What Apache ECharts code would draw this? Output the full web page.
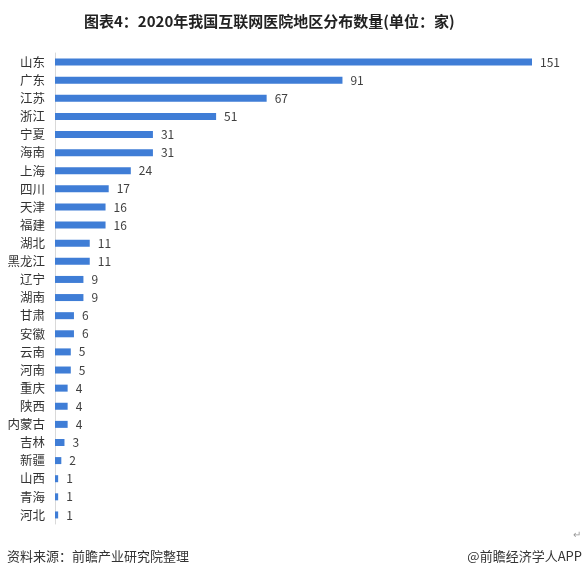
<!DOCTYPE html>
<html><head><meta charset="utf-8">
<script src="https://cdn.jsdelivr.net/npm/echarts@6/dist/echarts.min.js"></script>
<style>html,body{margin:0;padding:0;background:#fff}#c{width:584px;height:580px}</style>
</head><body><div id="c"></div>
<script>
const categories = ['山东','广东','江苏','浙江','宁夏','海南','上海','四川','天津','福建','湖北','黑龙江','辽宁','湖南','甘肃','安徽','云南','河南','重庆','陕西','内蒙古','吉林','新疆','山西','青海','河北'];
const values = [151,91,67,51,31,31,24,17,16,16,11,11,9,9,6,6,5,5,4,4,4,3,2,1,1,1];
const titleText = '图表4：2020年我国互联网医院地区分布数量(单位：家)';
const sourceText = '资料来源：前瞻产业研究院整理';
const brandText = '@前瞻经济学人APP';

const chart = echarts.init(document.getElementById('c'), null, {renderer:'canvas'});
const font = '"Noto Sans CJK SC", "Microsoft YaHei", sans-serif';
chart.setOption({
  animation:false,
  backgroundColor:'#fff',
  title:{text:titleText,left:79,top:9,textStyle:{fontSize:15,fontWeight:'bold',color:'#222',fontFamily:font}},
  graphic:[
    {type:'text',left:7,top:550,style:{text:sourceText,fontSize:13,fill:'#333',fontFamily:font}},
    {type:'text',right:2,top:550,style:{text:brandText,fontSize:13,fill:'#333',fontFamily:font}},
    {type:'text',right:3,top:529,style:{text:'↵',fontSize:10,fill:'#999',fontFamily:font}}
  ],
  grid:{left:55,right:52,top:53,height:471,containLabel:false},
  xAxis:{type:'value',min:0,max:151,show:false},
  yAxis:{type:'category',data:categories,inverse:true,
    axisLine:{show:true,lineStyle:{color:'#d9d9d9',width:1}},
    axisTick:{show:false},
    axisLabel:{color:'#333',fontSize:12.5,fontFamily:font,margin:10}},
  series:[{type:'bar',data:values,barWidth:7,
    itemStyle:{color:'#3F7DD6'},
    label:{show:true,position:'right',distance:8,color:'#404040',fontSize:12,fontFamily:font}}]
});
</script></body></html>
